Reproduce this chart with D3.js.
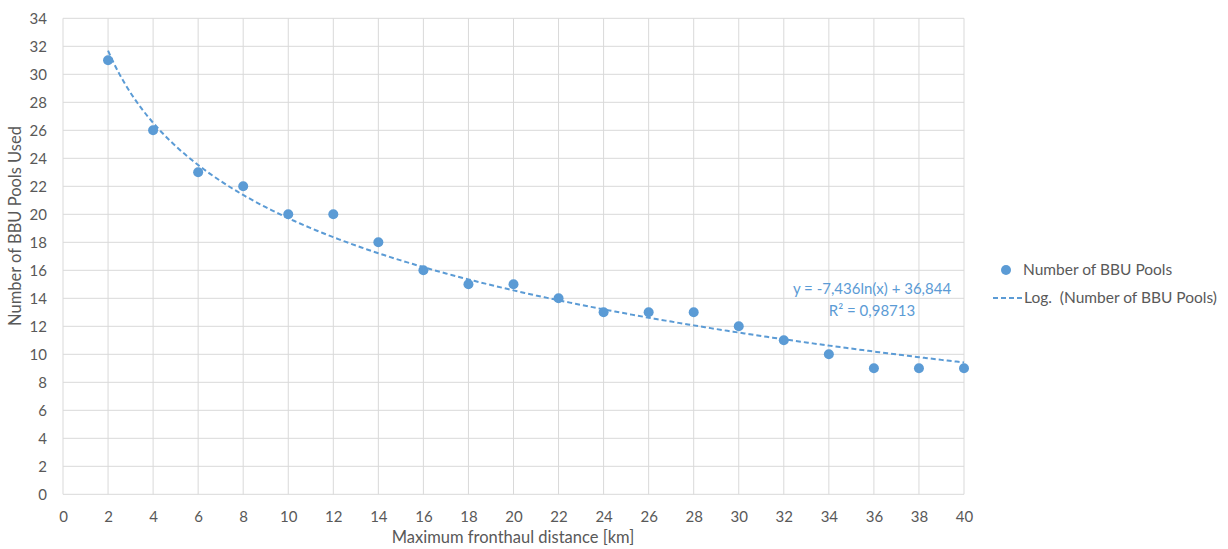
<!DOCTYPE html>
<html>
<head>
<meta charset="utf-8">
<script src="https://cdn.jsdelivr.net/npm/d3@7"></script>
<style>
  html, body { margin: 0; padding: 0; background: #fff; }
  svg text { font-family: Lato, "Open Sans", sans-serif; fill: #595959; }
</style>
</head>
<body>
<svg id="chart" width="1228" height="549"></svg>
<script>
// Number of BBU pools used for each maximum fronthaul distance (km)
const distances = [2, 4, 6, 8, 10, 12, 14, 16, 18, 20, 22, 24, 26, 28, 30, 32, 34, 36, 38, 40];
const pools = [31, 26, 23, 22, 20, 20, 18, 16, 15, 15, 14, 13, 13, 13, 12, 11, 10, 9, 9, 9];

// Logarithmic trendline coefficients: y = slope * ln(x) + intercept
const trendSlope = -7.436;
const trendIntercept = 36.844;
const trendR2 = 0.98713;

const xTicks = d3.range(0, 41, 2);
const yTicks = d3.range(0, 35, 2);

const seriesName = "Number of BBU Pools";
const trendName = "Log.\u00a0 (Number of BBU Pools)";
const xTitle = "Maximum fronthaul distance [km]";
const yTitle = "Number of BBU Pools Used";

const color = "#5B9BD5";
const gridColor = "#d9d9d9";

const svg = d3.select("#chart");
const plot = { left: 63, right: 964, top: 18.3, bottom: 494.3 };

const x = d3.scaleLinear().domain([0, 40]).range([plot.left, plot.right]);
const y = d3.scaleLinear().domain([0, 34]).range([plot.bottom, plot.top]);

// Grid lines
svg.append("g").selectAll("line.h").data(yTicks).join("line")
  .attr("x1", plot.left).attr("x2", plot.right)
  .attr("y1", d => y(d)).attr("y2", d => y(d))
  .attr("stroke", gridColor).attr("stroke-width", 1);
svg.append("g").selectAll("line.v").data(xTicks).join("line")
  .attr("y1", plot.top).attr("y2", plot.bottom)
  .attr("x1", d => x(d)).attr("x2", d => x(d))
  .attr("stroke", gridColor).attr("stroke-width", 1);

// Axes (labels only, the grid provides the lines)
const xAxis = svg.append("g")
  .attr("transform", `translate(0,${plot.bottom})`)
  .call(d3.axisBottom(x).tickValues(xTicks).tickSize(0).tickPadding(17));
xAxis.select(".domain").remove();
xAxis.selectAll("text").style("font-size", "15px").attr("fill", "#595959");

const yAxis = svg.append("g")
  .attr("transform", `translate(${plot.left},0)`)
  .call(d3.axisLeft(y).tickValues(yTicks).tickSize(0).tickPadding(16));
yAxis.select(".domain").remove();
yAxis.selectAll("text").style("font-size", "15px").attr("fill", "#595959");

// Trendline
const trendX = d3.range(2, 40.01, 0.25);
const line = d3.line()
  .x(d => x(d))
  .y(d => y(trendSlope * Math.log(d) + trendIntercept))
  .curve(d3.curveMonotoneX);
svg.append("path")
  .datum(trendX)
  .attr("d", line)
  .attr("fill", "none")
  .attr("stroke", color)
  .attr("stroke-width", 2)
  .attr("stroke-dasharray", "5,3");

// Data points
svg.append("g").selectAll("circle").data(distances).join("circle")
  .attr("cx", d => x(d))
  .attr("cy", (d, i) => y(pools[i]))
  .attr("r", 5)
  .attr("fill", color);

// Trendline equation
const fmt = (v, n) => v.toFixed(n).replace(".", ",");
const eq = svg.append("text")
  .attr("x", 872).attr("y", 294)
  .attr("text-anchor", "middle")
  .style("font-size", "15px")
  .style("fill", color);
eq.append("tspan").attr("x", 872).attr("dy", 0)
  .text(`y = ${fmt(trendSlope, 3)}ln(x) + ${fmt(trendIntercept, 3)}`);
eq.append("tspan").attr("x", 872).attr("dy", 22)
  .text(`R² = ${fmt(trendR2, 5)}`);

// Legend
const legend = svg.append("g");
legend.append("circle").attr("cx", 1006).attr("cy", 270).attr("r", 5).attr("fill", color);
legend.append("text").attr("x", 1023).attr("y", 275).style("font-size", "15.5px").text(seriesName);
legend.append("line")
  .attr("x1", 993).attr("x2", 1023).attr("y1", 298).attr("y2", 298)
  .attr("stroke", color).attr("stroke-width", 2).attr("stroke-dasharray", "5,3");
legend.append("text").attr("x", 1024).attr("y", 303).style("font-size", "15.5px").text(trendName);

// Axis titles
svg.append("text")
  .attr("x", 513).attr("y", 543)
  .attr("text-anchor", "middle").style("font-size", "16.5px").text(xTitle);
svg.append("text")
  .attr("transform", `translate(21,226) rotate(-90)`)
  .attr("text-anchor", "middle").style("font-size", "16.5px").text(yTitle);
</script>
</body>
</html>
